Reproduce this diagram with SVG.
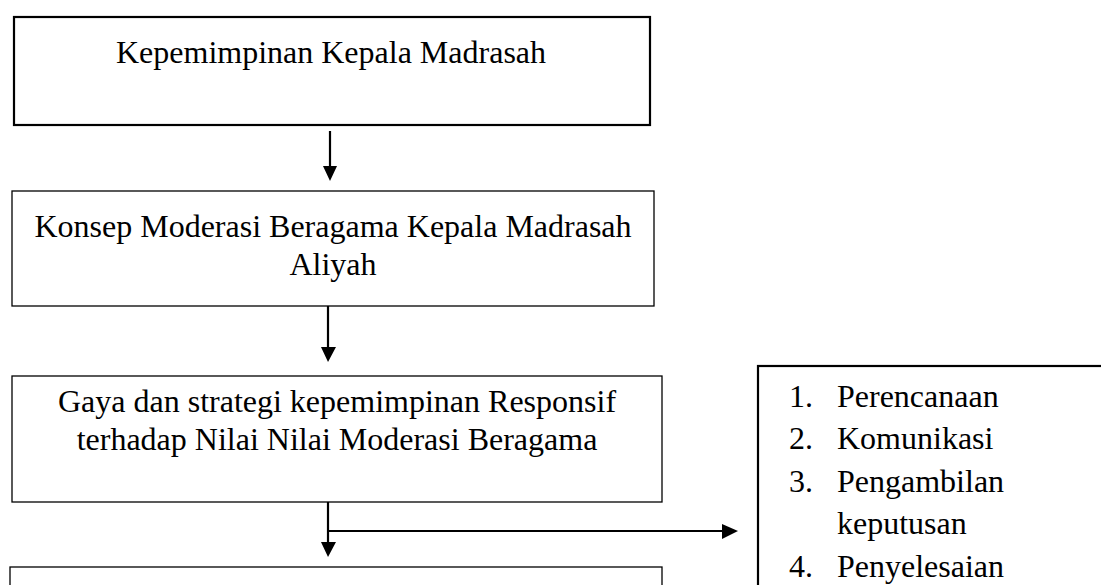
<svg xmlns="http://www.w3.org/2000/svg" width="1101" height="585" viewBox="0 0 1101 585">
<defs>
<style>
.box{fill:#fff;stroke:#000;stroke-width:1.3}
.thick{stroke-width:2.2}
.t{font-family:"Liberation Serif","Times New Roman",serif;font-size:32px;fill:#000;text-anchor:middle}
.li{font-family:"Liberation Serif","Times New Roman",serif;font-size:32px;fill:#000}
.ln{stroke:#000;stroke-width:2.2;fill:none}
</style>
</defs>
<rect width="1101" height="585" fill="#fff"/>
<g id="n1"><rect class="box thick" x="14" y="17" width="636" height="108"/><text class="t" x="331" y="63">Kepemimpinan Kepala Madrasah</text></g>
<g id="n2"><rect class="box" x="12" y="191" width="642" height="115"/><text class="t" x="333" y="237">Konsep Moderasi Beragama Kepala Madrasah</text><text class="t" x="333" y="275">Aliyah</text></g>
<g id="n3"><rect class="box" x="12" y="376" width="650" height="126"/><text class="t" x="337" y="412">Gaya dan strategi kepemimpinan Responsif</text><text class="t" x="337" y="450">terhadap Nilai Nilai Moderasi Beragama</text></g>
<g id="n4"><rect class="box" x="10" y="567" width="652" height="40"/></g>
<g id="n5"><rect class="box thick" x="758" y="366" width="360" height="240"/>
<text class="li" x="789" y="407">1.</text><text class="li" x="837" y="407">Perencanaan</text>
<text class="li" x="789" y="449">2.</text><text class="li" x="837" y="449">Komunikasi</text>
<text class="li" x="789" y="492">3.</text><text class="li" x="837" y="492">Pengambilan</text>
<text class="li" x="837" y="534">keputusan</text>
<text class="li" x="789" y="577">4.</text><text class="li" x="837" y="577">Penyelesaian</text>
</g>
<g id="connectors">
<line class="ln" x1="330" y1="131" x2="330" y2="174"/><path d="M323,166 L337,166 L330,181 Z"/>
<line class="ln" x1="328" y1="306" x2="328" y2="354"/><path d="M321,347 L336,347 L328,362 Z"/>
<line class="ln" x1="328" y1="502" x2="328" y2="550"/><path d="M321,542 L336,542 L328,557 Z"/>
<line class="ln" x1="328" y1="531" x2="730" y2="531"/><path d="M722,524 L738,531 L722,539 Z"/>
</g>
</svg>
